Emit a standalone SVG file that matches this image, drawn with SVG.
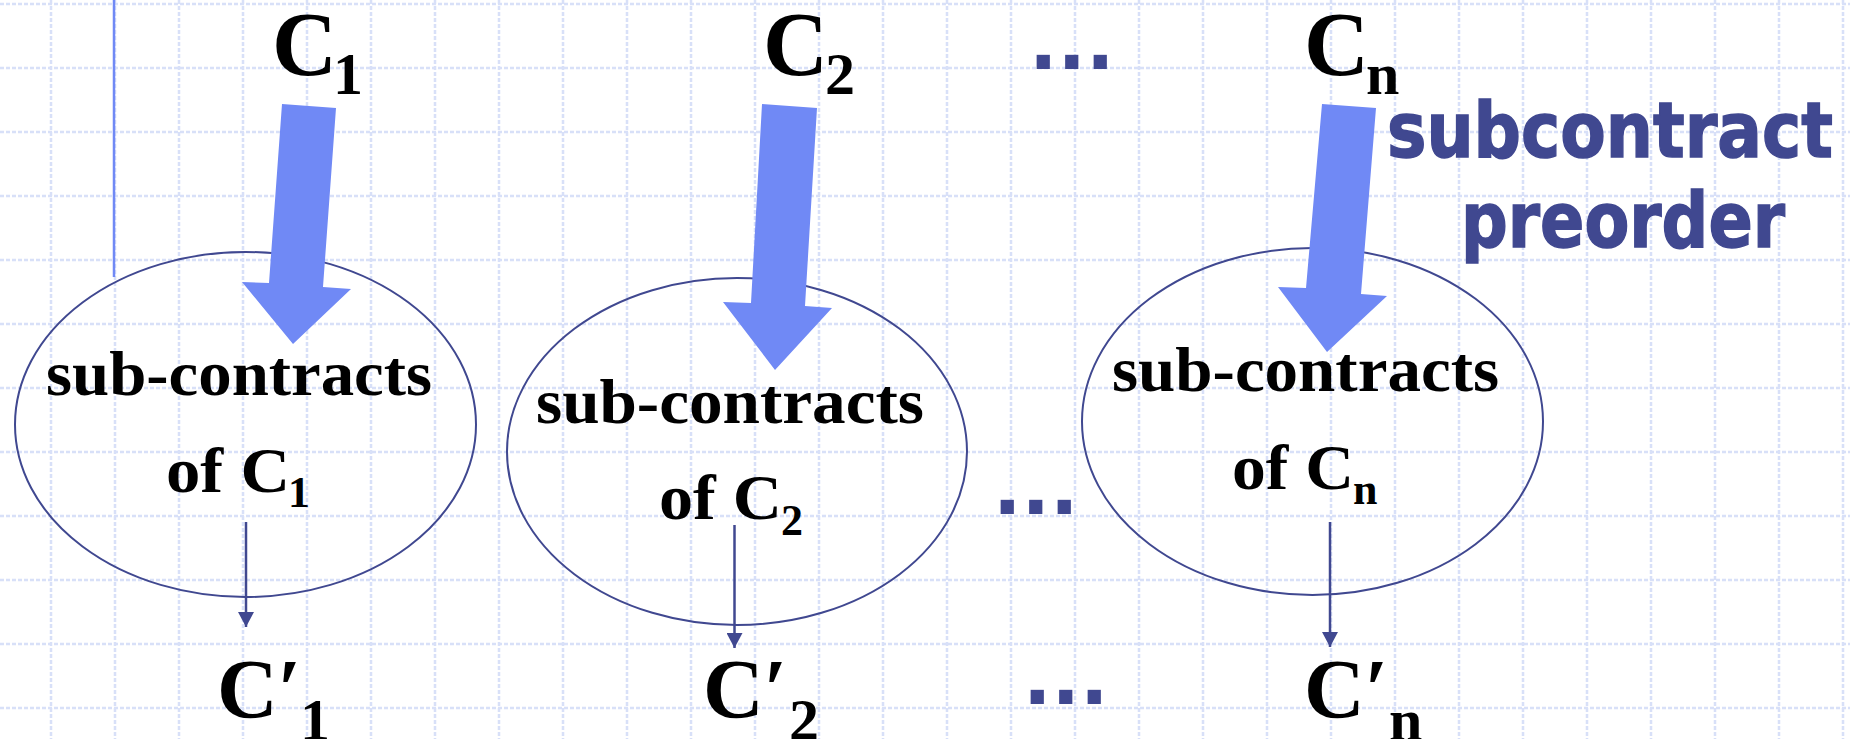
<svg xmlns="http://www.w3.org/2000/svg" width="1850" height="739" viewBox="0 0 1850 739">
<style>
.grid{stroke:#d8e0f8;stroke-width:2.5;stroke-dasharray:4 2;fill:none}
.ser{font-family:"Liberation Serif","DejaVu Serif",serif;font-weight:bold;fill:#000}
.big{font-size:90px}
.bot{font-size:84px}
.sub{font-size:60px}
.mid{font-size:64px}
.msub{font-size:44px}
.ell{fill:none;stroke:#404890;stroke-width:2}
.thick{fill:#7089f5;stroke:none}
.thin{stroke:#404890;stroke-width:2.5;fill:none}
.dots{font-family:"DejaVu Sans",sans-serif;font-weight:bold;font-size:75px;fill:#404890}
.lbl{font-family:"DejaVu Sans","Liberation Sans",sans-serif;font-weight:bold;font-size:76px;fill:#404890;stroke:#404890;stroke-width:1.5}
</style>
<defs>
<marker id="ah" markerUnits="userSpaceOnUse" markerWidth="16" markerHeight="16" refX="15" refY="8" orient="auto">
<path d="M0,0 L15,8 L0,16 Z" fill="#404890"/>
</marker>
</defs>
<rect width="1850" height="739" fill="#ffffff"/>
<path class="grid" d="M51 0V739M115 0V739M179 0V739M243 0V739M307 0V739M371 0V739M435 0V739M499 0V739M563 0V739M627 0V739M691 0V739M755 0V739M819 0V739M883 0V739M947 0V739M1011 0V739M1075 0V739M1139 0V739M1203 0V739M1267 0V739M1331 0V739M1395 0V739M1459 0V739M1523 0V739M1587 0V739M1651 0V739M1715 0V739M1779 0V739M1843 0V739M0 4H1850M0 68H1850M0 132H1850M0 196H1850M0 260H1850M0 324H1850M0 388H1850M0 452H1850M0 516H1850M0 580H1850M0 644H1850M0 708H1850"/>
<line x1="114" y1="0" x2="114" y2="277" stroke="#7089f5" stroke-width="2.5"/>

<g id="c1"><text class="ser big" x="272" y="75">C<tspan class="sub" x="333" y="94">1</tspan></text></g>
<g id="c2"><text class="ser big" x="763" y="75">C<tspan class="sub" x="825" y="94">2</tspan></text></g>
<g id="cn"><text class="ser big" x="1304" y="75">C<tspan class="sub" x="1366" y="94">n</tspan></text></g>
<g id="dots-top"><text class="dots" x="1029" y="69">...</text></g>

<g id="label-preorder">
<text class="lbl" x="1610" y="157" text-anchor="middle" textLength="446" lengthAdjust="spacingAndGlyphs">subcontract</text>
<text class="lbl" x="1623" y="247" text-anchor="middle" textLength="324" lengthAdjust="spacingAndGlyphs">preorder</text>
</g>

<g id="sub1">
<ellipse class="ell" cx="245.5" cy="424.5" rx="230.5" ry="172.5"/>
<text class="ser mid" x="46" y="395" textLength="386" lengthAdjust="spacingAndGlyphs">sub-contracts</text>
<text class="ser mid" x="166" y="492"><tspan textLength="124" lengthAdjust="spacingAndGlyphs">of C</tspan><tspan class="msub" x="288" y="507">1</tspan></text>
</g>
<g id="sub2">
<ellipse class="ell" cx="737" cy="451.5" rx="230" ry="173.5"/>
<text class="ser mid" x="536" y="423" textLength="388" lengthAdjust="spacingAndGlyphs">sub-contracts</text>
<text class="ser mid" x="659" y="519"><tspan textLength="123" lengthAdjust="spacingAndGlyphs">of C</tspan><tspan class="msub" x="781" y="535">2</tspan></text>
</g>
<g id="dots-mid"><text class="dots" x="993" y="514">...</text></g>
<g id="subn">
<ellipse class="ell" cx="1312.5" cy="421.5" rx="230.5" ry="173.5"/>
<text class="ser mid" x="1112" y="391" textLength="387" lengthAdjust="spacingAndGlyphs">sub-contracts</text>
<text class="ser mid" x="1232" y="489"><tspan textLength="122" lengthAdjust="spacingAndGlyphs">of C</tspan><tspan class="msub" x="1353" y="504">n</tspan></text>
</g>

<g id="c1p"><text class="ser bot" x="217" y="718">C′<tspan class="sub" x="300" y="740">1</tspan></text></g>
<g id="c2p"><text class="ser bot" x="703" y="718">C′<tspan class="sub" x="789" y="740">2</tspan></text></g>
<g id="dots-bot"><text class="dots" x="1023" y="704">...</text></g>
<g id="cnp"><text class="ser bot" x="1304" y="718">C′<tspan class="sub" x="1389" y="740">n</tspan></text></g>

<g id="connectors">
<polygon class="thick" points="282,104 336,108 323,287 351,289 293,344 242,282 269,283"/>
<polygon class="thick" points="762,104 817,108 805,306 832,308 775,370 723,302 751,303"/>
<polygon class="thick" points="1322,104 1376,108 1361,294 1387,296 1327,352 1278,287 1306,288"/>
<line class="thin" x1="246" y1="522" x2="246" y2="627" marker-end="url(#ah)"/>
<line class="thin" x1="734.5" y1="525" x2="734.5" y2="648" marker-end="url(#ah)"/>
<line class="thin" x1="1330" y1="522" x2="1330" y2="647" marker-end="url(#ah)"/>
</g>
</svg>
